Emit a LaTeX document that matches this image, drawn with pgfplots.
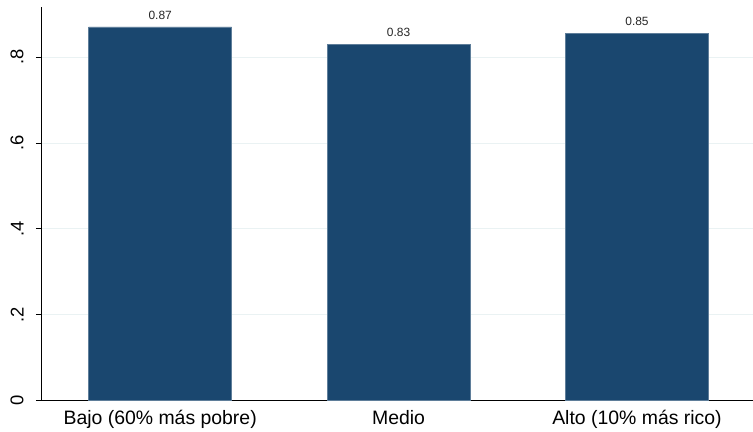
\documentclass[border=0pt]{standalone}
\usepackage{pgfplots}
\pgfplotsset{compat=1.18}
\usepackage{fontspec}
\setmainfont{Liberation Sans}
\definecolor{stnavy}{RGB}{26,71,111}
\definecolor{stgrid}{RGB}{234,242,243}
\begin{document}
\begin{tikzpicture}[x=1bp,y=1bp]
\begin{axis}[
  at={(0,0)}, anchor=south west,
  scale only axis,
  width=712bp, height=394bp,
  xmin=-0.5, xmax=2.485,
  ymin=0, ymax=0.9163,
  axis x line=bottom, axis y line=left,
  axis line style={-, line width=0.8pt},
  xtick={0,1,2},
  xticklabels={Bajo (60\% más pobre), Medio, Alto (10\% más rico)},
  x tick style={draw=none},
  xticklabel style={font=\fontsize{19.5}{22}\selectfont, yshift=-1pt},
  ytick={0,0.2,0.4,0.6,0.8},
  yticklabels={0,.2,.4,.6,.8},
  y tick style={black, line width=0.8pt},
  tick align=outside,
  major tick length=5bp,
  yticklabel style={font=\fontsize{18.5}{22}\selectfont, rotate=90, anchor=south, yshift=9pt},
  ymajorgrids,
  grid style={stgrid, line width=0.8pt},
  /pgf/number format/assume math mode=true,
  clip=false,
]
\addplot[ybar, bar width=0.6, fill=stnavy, draw=stnavy!70!white, line width=0.6pt,
  nodes near coords, point meta=explicit symbolic,
  every node near coord/.append style={font=\fontsize{12}{14}\selectfont, text=black!85, anchor=south, yshift=4pt}]
  coordinates {(0,0.87) [0.87] (1,0.83) [0.83] (2,0.855) [0.85]};
\end{axis}
\path[use as bounding box] (-41,-25) rectangle (712,401);
\end{tikzpicture}
\end{document}
